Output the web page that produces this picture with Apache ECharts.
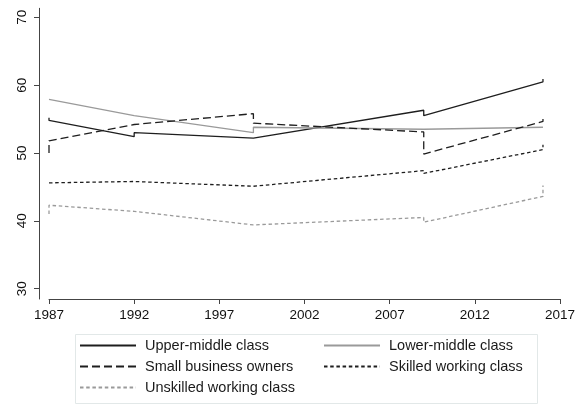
<!DOCTYPE html>
<html>
<head>
<meta charset="utf-8">
<script src="https://cdn.jsdelivr.net/npm/echarts@6/dist/echarts.min.js"></script>
<style>
  html, body { margin: 0; padding: 0; background: #fff; }
  #chart { width: 587px; height: 405px; }
</style>
</head>
<body>
<div id="chart"></div>
<script>
// Survey years (repeated years mark a break between two survey waves)
const upperMiddleYears = [1987, 1987, 1992, 1992, 1999, 2009, 2009, 2016, 2016];
const upperMiddleValues = [55.2, 54.8, 52.4, 53.0, 52.2, 56.3, 55.5, 60.5, 60.9];

const lowerMiddleYears = [1987, 1992, 1999, 1999, 2009, 2016];
const lowerMiddleValues = [57.9, 55.5, 53.0, 53.8, 53.5, 53.8];

const smallBusinessYears = [1987, 1987, 1992, 1999, 1999, 2009, 2009, 2016, 2016];
const smallBusinessValues = [50.0, 51.8, 54.2, 55.8, 54.4, 53.1, 49.85, 54.65, 55.0];

const skilledYears = [1987, 1992, 1999, 2009, 2009, 2016, 2016];
const skilledValues = [45.6, 45.8, 45.1, 47.4, 47.0, 50.5, 51.2];

const unskilledYears = [1987, 1987, 1992, 1999, 2009, 2009, 2016, 2016];
const unskilledValues = [41.0, 42.3, 41.4, 39.4, 40.5, 39.8, 43.6, 45.2];

const xTickLabels = [1987, 1992, 1997, 2002, 2007, 2012, 2017];
const yTickLabels = [30, 40, 50, 60, 70];

const seriesNames = [
  'Upper-middle class',
  'Lower-middle class',
  'Small business owners',
  'Skilled working class',
  'Unskilled working class'
];

function pairs(xs, ys) {
  return xs.map((x, i) => [x, ys[i]]);
}

const FONT = '"Liberation Sans", Arial, sans-serif';
const AXIS_COLOR = '#444';

const styles = [
  { color: '#1e1e1e', type: 'solid' },
  { color: '#9a9a9a', type: 'solid' },
  { color: '#1e1e1e', type: [8, 4] },
  { color: '#1e1e1e', type: [3.5, 2.7] },
  { color: '#9a9a9a', type: [3.5, 2.7] }
];

const dataSets = [
  pairs(upperMiddleYears, upperMiddleValues),
  pairs(lowerMiddleYears, lowerMiddleValues),
  pairs(smallBusinessYears, smallBusinessValues),
  pairs(skilledYears, skilledValues),
  pairs(unskilledYears, unskilledValues)
];

const series = seriesNames.map((name, i) => ({
  name,
  type: 'line',
  data: dataSets[i],
  symbol: 'none',
  animation: false,
  lineStyle: { color: styles[i].color, type: styles[i].type, width: 1.3 },
  itemStyle: { color: styles[i].color }
}));

// Two-column key: position of each entry
const legendSpots = [
  { left: 79, top: 338 },
  { left: 323, top: 338 },
  { left: 79, top: 359 },
  { left: 323, top: 359 },
  { left: 79, top: 380 }
];

const legends = seriesNames.map((name, i) => ({
  show: true,
  type: 'plain',
  data: [{ name }],
  left: legendSpots[i].left,
  top: legendSpots[i].top,
  padding: 0,
  itemWidth: 56,
  itemHeight: 14,
  itemGap: 0,
  selectedMode: false,
  itemStyle: { color: 'rgba(0,0,0,0)', borderWidth: 0, opacity: 0 },
  textStyle: { fontFamily: FONT, fontSize: 14.5, color: '#1a1a1a', padding: [0, 0, 0, 4] }
}));

const chart = echarts.init(document.getElementById('chart'), null, { renderer: 'canvas' });
chart.setOption({
  backgroundColor: '#ffffff',
  animation: false,
  grid: { left: 49, right: 27, top: 8.3, bottom: 106 },
  xAxis: {
    type: 'value',
    min: 1987,
    max: 2017,
    splitLine: { show: false },
    axisLine: { show: true, lineStyle: { color: AXIS_COLOR, width: 1 } },
    axisTick: { show: true, length: 5, lineStyle: { color: AXIS_COLOR }, customValues: xTickLabels },
    axisLabel: {
      customValues: xTickLabels,
      formatter: v => String(v),
      fontFamily: FONT, fontSize: 13.5, color: '#111', margin: 9
    }
  },
  yAxis: {
    type: 'value',
    min: 28.48,
    max: 71.33,
    offset: 10,
    splitLine: { show: false },
    axisLine: { show: true, lineStyle: { color: AXIS_COLOR, width: 1 } },
    axisTick: { show: true, length: 5, lineStyle: { color: AXIS_COLOR }, customValues: yTickLabels },
    axisLabel: {
      customValues: yTickLabels,
      rotate: 90,
      formatter: v => String(v),
      fontFamily: FONT, fontSize: 13.5, color: '#111', margin: 10
    }
  },
  legend: legends,
  graphic: [{
    type: 'rect',
    left: 73, top: 332,
    shape: { width: 462, height: 69 },
    style: { fill: 'none', stroke: '#e2e8e8', lineWidth: 1 },
    silent: true
  }],
  series
});
</script>
</body>
</html>
